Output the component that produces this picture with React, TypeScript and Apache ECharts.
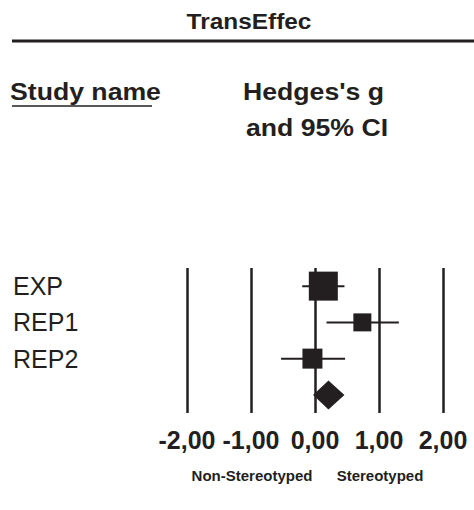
import React, { useEffect, useRef } from "react";
import * as echarts from "echarts";

const studies = ["EXP", "REP1", "REP2", ""];
const estimates = [0.13, 0.74, -0.04];
const lower = [-0.2, 0.18, -0.53];
const upper = [0.46, 1.31, 0.47];
const weights = [29, 18, 20];
const summary = [0.21, -0.03, 0.46];
const tickValues = [-2, -1, 0, 1, 2];

const INK = "#231f20";
const FONT = "Liberation Sans, Arial, Helvetica, sans-serif";
const SX = 1.11;

export default function App() {
  const ref = useRef<HTMLDivElement>(null);
  useEffect(() => {
    if (!ref.current) return;
    const chart = echarts.init(ref.current, null, { renderer: "svg" });
    const ciData = estimates.map((_, i) => [lower[i], upper[i], i]);
    const sqData = estimates.map((e, i) => ({ value: [e, i], symbolSize: weights[i] }));
    chart.setOption({
      animation: false,
      backgroundColor: "#ffffff",
      grid: { left: 187, right: 31, top: 268, bottom: 97 },
      xAxis: {
        type: "value",
        min: tickValues[0],
        max: tickValues[tickValues.length - 1],
        interval: 1,
        axisLine: { show: false },
        axisTick: { show: false },
        splitLine: { show: true, lineStyle: { color: INK, width: 2.5 } },
        axisLabel: {
          formatter: (v: number) => v.toFixed(2).replace(".", ","),
          fontFamily: FONT,
          fontWeight: "bold",
          fontSize: 25,
          color: INK,
          margin: 14,
        },
      },
      yAxis: {
        type: "category",
        data: studies,
        inverse: true,
        axisLine: { show: false },
        axisTick: { show: false },
        splitLine: { show: false },
        axisLabel: {
          align: "left",
          margin: 174,
          fontFamily: FONT,
          fontSize: 25,
          color: INK,
        },
      },
      series: [
        {
          type: "custom",
          data: ciData,
          renderItem: (params: any, api: any) => {
            const a = api.coord([api.value(0), api.value(2)]);
            const b = api.coord([api.value(1), api.value(2)]);
            return {
              type: "line",
              shape: { x1: a[0], y1: a[1], x2: b[0], y2: b[1] },
              style: { stroke: INK, lineWidth: 2 },
            };
          },
          z: 3,
        },
        {
          type: "scatter",
          symbol: "rect",
          data: sqData,
          itemStyle: { color: INK, opacity: 1 },
          z: 4,
        },
        {
          type: "custom",
          data: [[summary[0], summary[1], summary[2], 3]],
          renderItem: (params: any, api: any) => {
            const c = api.coord([api.value(0), api.value(3)]);
            const l = api.coord([api.value(1), api.value(3)]);
            const r = api.coord([api.value(2), api.value(3)]);
            const h = 14.5;
            return {
              type: "polygon",
              shape: { points: [[l[0], c[1]], [c[0], c[1] - h], [r[0], c[1]], [c[0], c[1] + h]] },
              style: { fill: INK },
            };
          },
          z: 4,
        },
      ],
      graphic: [
        { type: "text", x: 249, y: 21, scaleX: SX, style: { text: "TransEffec", fontFamily: FONT, fontWeight: "bold", fontSize: 22, fill: INK, align: "center", verticalAlign: "middle" } },
        { type: "line", shape: { x1: 12, y1: 41, x2: 474, y2: 41 }, style: { stroke: INK, lineWidth: 3 } },
        { type: "text", x: 10, y: 91, scaleX: SX, style: { text: "Study name", fontFamily: FONT, fontWeight: "bold", fontSize: 24, fill: INK, align: "left", verticalAlign: "middle" } },
        { type: "line", shape: { x1: 12, y1: 106, x2: 152, y2: 106 }, style: { stroke: INK, lineWidth: 1.5 } },
        { type: "text", x: 243, y: 91, scaleX: SX, style: { text: "Hedges's g", fontFamily: FONT, fontWeight: "bold", fontSize: 24, fill: INK, align: "left", verticalAlign: "middle" } },
        { type: "text", x: 246, y: 127, scaleX: SX, style: { text: "and 95% CI", fontFamily: FONT, fontWeight: "bold", fontSize: 24, fill: INK, align: "left", verticalAlign: "middle" } },
        { type: "text", x: 252, y: 475, style: { text: "Non-Stereotyped", fontFamily: FONT, fontWeight: "bold", fontSize: 15, fill: INK, align: "center", verticalAlign: "middle" } },
        { type: "text", x: 380, y: 475, style: { text: "Stereotyped", fontFamily: FONT, fontWeight: "bold", fontSize: 15, fill: INK, align: "center", verticalAlign: "middle" } },
      ],
    });
    return () => chart.dispose();
  }, []);
  return (
    <div
      ref={ref}
      style={{ position: "fixed", left: 0, top: 0, width: 474, height: 510, background: "#fff" }}
    />
  );
}
